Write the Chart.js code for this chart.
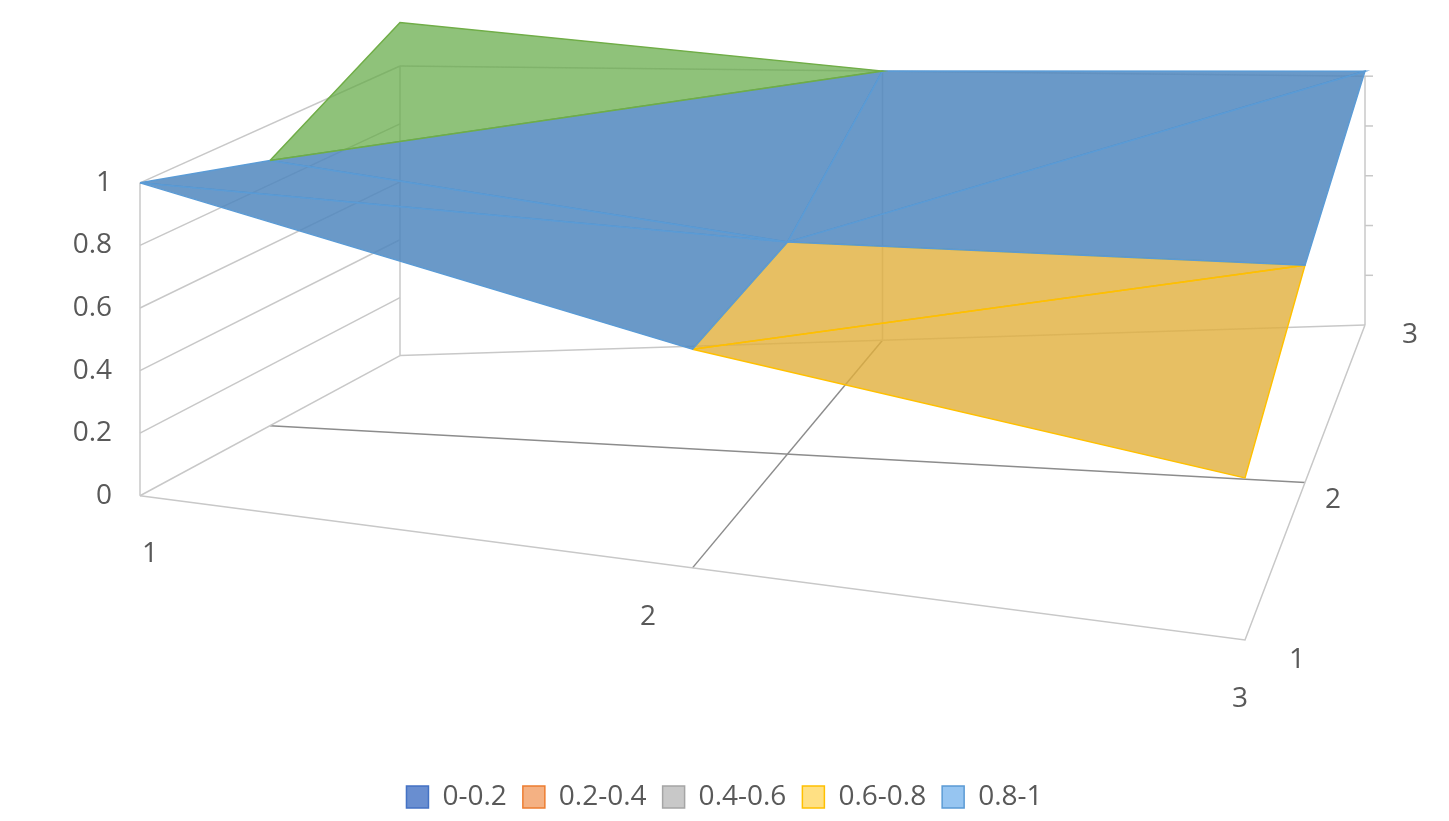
<!DOCTYPE html><html><head><meta charset="utf-8">
<script src="https://cdn.jsdelivr.net/npm/chart.js@4/dist/chart.umd.min.js"></script>
<style>html,body{margin:0;background:#fff}#w{width:1449px;height:821px}</style></head><body><div id="w"><canvas id="c"></canvas></div>
<script>
const xCategories=['1','2','3'];
const seriesNames=['1','2','3'];
const zTicks=[0,0.2,0.4,0.6,0.8,1];
const row1=[1.0,0.72,0.55];
const row2=[0.88,0.74,0.80];
const row3=[1.15,1.0,1.02];
const bandLabels=['0-0.2','0.2-0.4','0.4-0.6','0.6-0.8','0.8-1'];
const bandColors=['rgba(68,114,196,0.8)','rgba(237,125,49,0.6)','rgba(190,190,190,0.85)','rgba(255,213,90,0.75)','rgba(110,175,235,0.72)','rgba(100,170,70,0.72)'];
const bandBorders=['#4472c4','#ed7d31','#a5a5a5','#ffc000','#5b9bd5','#70ad47'];
const darkBlue='rgba(80,135,190,0.85)';
const rows=[row1,row2,row3];
const C={fl:[140,488],fr:[1245,630],bl:[400,350],br:[1365,320]};
const H={fl:308,fr:290,bl:285,br:245};
function P(xi,si,z){const u=xi/2,v=si/2;
 const bx=(1-u)*(1-v)*C.fl[0]+u*(1-v)*C.fr[0]+(1-u)*v*C.bl[0]+u*v*C.br[0];
 const by=(1-u)*(1-v)*C.fl[1]+u*(1-v)*C.fr[1]+(1-u)*v*C.bl[1]+u*v*C.br[1];
 const h=(1-u)*(1-v)*H.fl+u*(1-v)*H.fr+(1-u)*v*H.bl+u*v*H.br;
 return {x:bx,y:by-z*h};}
const ds=[];
function line(pts,color){ds.push({data:pts,showLine:true,borderColor:color,borderWidth:1.5,pointRadius:0,fill:false,order:0});}
const G='#c8c8c8';
zTicks.forEach(z=>{line([P(0,0,z),P(0,2,z)],G);line([P(2,2,z),P(2,2,z)],G);});
[0.2,0.4,0.6,0.8,1].forEach(z=>line([P(2,2,z),{x:P(2,2,z).x+8,y:P(2,2,z).y}],G));
line([P(0,2,0),P(2,2,0)],G);line([P(0,2,1),P(2,2,1)],G);
line([P(0,0,0),P(2,0,0),P(2,2,0)],G);
line([P(1,0,0),P(1,2,0)],'#8c8c8c');line([P(0,1,0),P(2,1,0)],'#8c8c8c');
line([P(0,0,0),P(0,0,1)],G);line([P(0,2,0),P(0,2,1)],G);line([P(2,2,0),P(2,2,1)],G);line([P(1,2,0),P(1,2,1)],G);
function band(z){return Math.min(5,Math.max(0,Math.floor(z*5-1e-9)));}
const tris=[];
for(let s=1;s>=0;s--)for(let x=0;x<2;x++){
 const a=[x,s],b=[x+1,s],c=[x+1,s+1],d=[x,s+1];
 tris.push([a,d,c],[a,c,b]);}
tris.forEach(t=>{const zs=t.map(p=>rows[p[1]][p[0]]);const avg=zs.reduce((p,q)=>p+q)/3;const bi=band(avg);
 const pts=t.map((p,i)=>P(p[0],p[1],zs[i]));pts.push(pts[0]);
 // signed area on screen: negative => facing away (underside), draw darker
 let A=0;for(let i=0;i<3;i++){A+=pts[i].x*pts[i+1].y-pts[i+1].x*pts[i].y;}
 let fillC=bandColors[bi];if(A>0&&bi===4)fillC=darkBlue;if(A>0&&bi===3)fillC='rgba(225,175,60,0.8)';
 ds.push({data:pts,showLine:true,borderColor:bandBorders[bi],backgroundColor:fillC,borderWidth:1.5,pointRadius:0,fill:'shape',order:-1});});
bandLabels.forEach((l,i)=>ds.push({label:l,data:[],backgroundColor:bandColors[i],borderColor:bandBorders[i],borderWidth:1.5,legend:true}));
const textPlugin={id:'txt',afterDatasetsDraw(ch){const g=ch.ctx,xs=ch.scales.x,ys=ch.scales.y;
 g.save();g.fillStyle='#595959';g.font='28px "Open Sans", Calibri, sans-serif';g.textBaseline='middle';
 g.textAlign='right';zTicks.forEach(z=>{const p=P(0,0,z);g.fillText(String(z),xs.getPixelForValue(p.x-28),ys.getPixelForValue(p.y));});
 g.textAlign='center';
 const xl=[[150,545],[648,607],[1240,688]];xCategories.forEach((t,i)=>g.fillText(t,xs.getPixelForValue(xl[i][0]),ys.getPixelForValue(xl[i][1])));
 const sl=[[1297,650],[1333,492],[1410,330]];seriesNames.forEach((t,i)=>g.fillText(t,xs.getPixelForValue(sl[i][0]),ys.getPixelForValue(sl[i][1])));
 g.restore();}};
new Chart(document.getElementById('c'),{type:'scatter',data:{datasets:ds},plugins:[textPlugin],
 options:{responsive:true,maintainAspectRatio:false,animation:false,layout:{padding:0},
 scales:{x:{type:'linear',min:0,max:1449,display:false},y:{type:'linear',min:0,max:755,reverse:true,display:false}},
 plugins:{tooltip:{enabled:false},legend:{position:'bottom',labels:{filter:(it,d)=>d.datasets[it.datasetIndex].legend===true,color:'#595959',font:{size:28,family:'"Open Sans", Calibri, sans-serif'},boxWidth:22,boxHeight:22,padding:16}}}}});
</script></body></html>
